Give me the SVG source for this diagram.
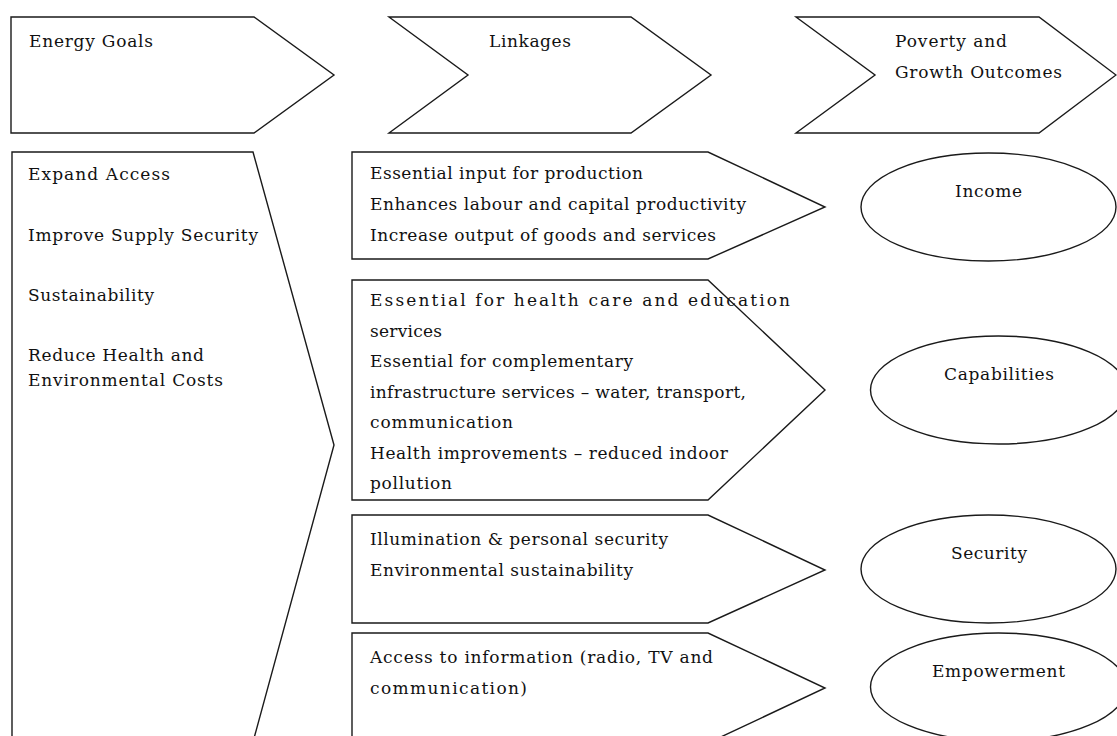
<svg xmlns="http://www.w3.org/2000/svg" width="1117" height="736" viewBox="0 0 1117 736">
<style>
.shape{fill:#fff;stroke:#1a1a1a;stroke-width:1.4;stroke-linejoin:miter}
.t{font-family:"DejaVu Serif","Liberation Serif",serif;font-size:17px;fill:#111;}
.c{text-anchor:middle}
</style>
<rect x="0" y="0" width="1117" height="736" fill="#fff"/>
<g id="header-energy-goals">
<polygon class="shape" points="11,17 254,17 334,75 254,133 11,133"/>
<text class="t" x="29" y="47" textLength="124" lengthAdjust="spacing">Energy Goals</text>
</g>
<g id="header-linkages">
<polygon class="shape" points="389,17 631,17 711,75 631,133 389,133 468,75"/>
<text class="t" x="489" y="47" textLength="82" lengthAdjust="spacing">Linkages</text>
</g>
<g id="header-outcomes">
<polygon class="shape" points="796,17 1039,17 1116,75 1039,133 796,133 875,75"/>
<text class="t" x="895" y="47" textLength="112" lengthAdjust="spacing">Poverty and</text>
<text class="t" x="895" y="78" textLength="167" lengthAdjust="spacing">Growth Outcomes</text>
</g>
<g id="energy-goals">
<polygon class="shape" points="12,152 253,152 334,445 253,742 12,742"/>
<text class="t" x="28" y="180" textLength="142" lengthAdjust="spacing">Expand Access</text>
<text class="t" x="28" y="241" textLength="230" lengthAdjust="spacing">Improve Supply Security</text>
<text class="t" x="28" y="301" textLength="126" lengthAdjust="spacing">Sustainability</text>
<text class="t" x="28" y="361" textLength="176" lengthAdjust="spacing">Reduce Health and</text>
<text class="t" x="28" y="386" textLength="195" lengthAdjust="spacing">Environmental Costs</text>
</g>
<g id="linkage-income">
<polygon class="shape" points="352,152 708,152 825,207 708,259 352,259"/>
<text class="t" x="370" y="179" textLength="273" lengthAdjust="spacing">Essential input for production</text>
<text class="t" x="370" y="210" textLength="376" lengthAdjust="spacing">Enhances labour and capital productivity</text>
<text class="t" x="370" y="241" textLength="346" lengthAdjust="spacing">Increase output of goods and services</text>
</g>
<g id="linkage-capabilities">
<polygon class="shape" points="352,280 708,280 825,390 708,500 352,500"/>
<text class="t" x="370" y="306" textLength="420" lengthAdjust="spacing">Essential for health care and education</text>
<text class="t" x="370" y="336.5" textLength="72" lengthAdjust="spacing">services</text>
<text class="t" x="370" y="367" textLength="263" lengthAdjust="spacing">Essential for complementary</text>
<text class="t" x="370" y="397.5" textLength="376" lengthAdjust="spacing">infrastructure services – water, transport,</text>
<text class="t" x="370" y="428" textLength="143" lengthAdjust="spacing">communication</text>
<text class="t" x="370" y="458.5" textLength="358" lengthAdjust="spacing">Health improvements – reduced indoor</text>
<text class="t" x="370" y="489" textLength="82" lengthAdjust="spacing">pollution</text>
</g>
<g id="linkage-security">
<polygon class="shape" points="352,515 708,515 825,570 708,623 352,623"/>
<text class="t" x="370" y="545" textLength="298" lengthAdjust="spacing">Illumination &amp; personal security</text>
<text class="t" x="370" y="576" textLength="263" lengthAdjust="spacing">Environmental sustainability</text>
</g>
<g id="linkage-empowerment">
<polygon class="shape" points="352,633 708,633 825,688 708,743 352,743"/>
<text class="t" x="370" y="663" textLength="343" lengthAdjust="spacing">Access to information (radio, TV and</text>
<text class="t" x="370" y="694" textLength="157" lengthAdjust="spacing">communication)</text>
</g>
<g id="outcome-income">
<ellipse class="shape" cx="988.5" cy="207" rx="127.5" ry="54"/>
<text class="t c" x="988.5" y="197" textLength="67" lengthAdjust="spacing">Income</text>
</g>
<g id="outcome-capabilities">
<ellipse class="shape" cx="998.5" cy="390" rx="128" ry="54"/>
<text class="t c" x="999" y="380" textLength="110" lengthAdjust="spacing">Capabilities</text>
</g>
<g id="outcome-security">
<ellipse class="shape" cx="988.5" cy="569" rx="127.5" ry="54"/>
<text class="t c" x="989" y="559" textLength="76" lengthAdjust="spacing">Security</text>
</g>
<g id="outcome-empowerment">
<ellipse class="shape" cx="998.5" cy="687" rx="128" ry="54"/>
<text class="t c" x="998.5" y="677" textLength="133" lengthAdjust="spacing">Empowerment</text>
</g>
<g id="connectors"></g>
</svg>
